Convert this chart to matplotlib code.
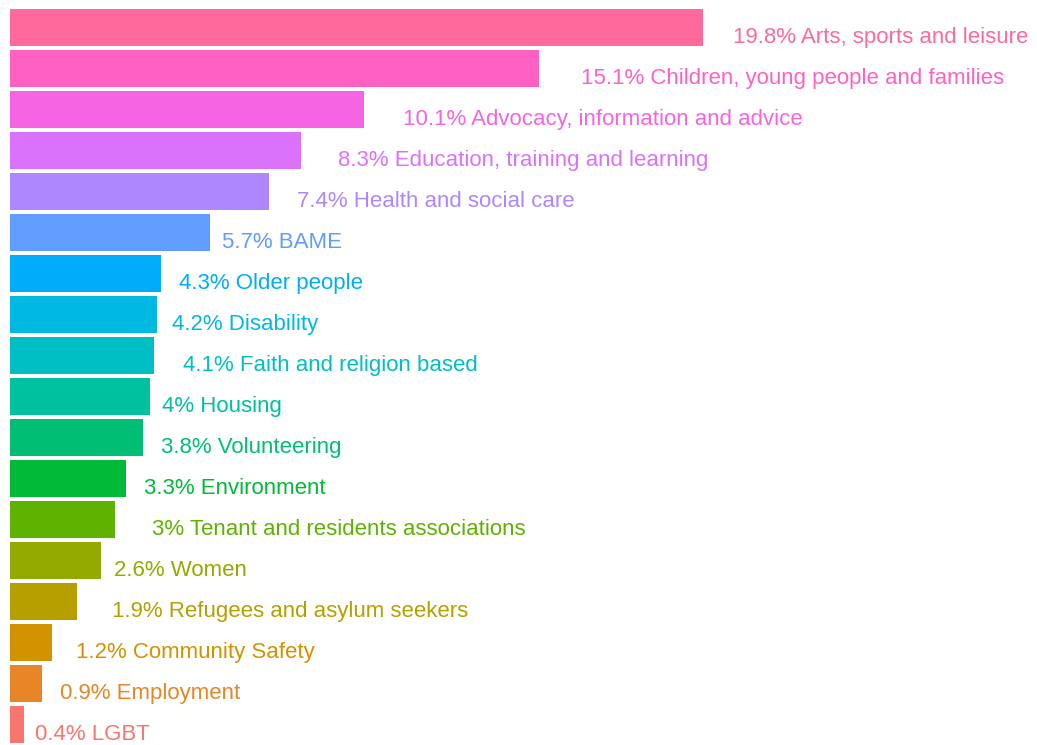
import numpy as np
import matplotlib
matplotlib.use('Agg')
import matplotlib.pyplot as plt
from matplotlib.transforms import Affine2D

# data, bottom to top
categories = ['LGBT', 'Employment', 'Community Safety', 'Refugees and asylum seekers',
              'Women', 'Tenant and residents associations', 'Environment', 'Volunteering',
              'Housing', 'Faith and religion based', 'Disability', 'Older people', 'BAME',
              'Health and social care', 'Education, training and learning',
              'Advocacy, information and advice', 'Children, young people and families',
              'Arts, sports and leisure']
values = [0.4, 0.9, 1.2, 1.9, 2.6, 3.0, 3.3, 3.8, 4.0, 4.1, 4.2, 4.3, 5.7, 7.4, 8.3,
          10.1, 15.1, 19.8]
value_labels = ['0.4%', '0.9%', '1.2%', '1.9%', '2.6%', '3%', '3.3%', '3.8%', '4%',
                '4.1%', '4.2%', '4.3%', '5.7%', '7.4%', '8.3%', '10.1%', '15.1%', '19.8%']


def hcl2hex(h, c, l):
    # R's hcl(): polar LUV -> sRGB
    wu, wv, wy = 0.1978398, 0.4683363, 100.0
    hr = np.radians(h)
    U = c * np.cos(hr)
    V = c * np.sin(hr)
    if l > 7.999592:
        Y = wy * ((l + 16) / 116) ** 3
    else:
        Y = wy * l / 903.3
    t = 13 * l
    u = U / t + wu
    v = V / t + wv
    X = 9.0 * Y * u / (4 * v)
    Z = -X / 3 - 5 * Y + 3 * Y / v
    r = (3.240479 * X - 1.537150 * Y - 0.498535 * Z) / wy
    g = (-0.969256 * X + 1.875992 * Y + 0.041556 * Z) / wy
    b = (0.055648 * X - 0.204043 * Y + 1.057311 * Z) / wy

    def gt(x):
        return 1.055 * x ** (1 / 2.4) - 0.055 if x > 0.00304 else 12.92 * x
    rgb = [min(max(gt(x), 0), 1) for x in (r, g, b)]
    return '#%02X%02X%02X' % tuple(int(round(x * 255)) for x in rgb)


n = len(categories)
hues = np.linspace(15, 375, n + 1)[:-1]
colors = [hcl2hex(h, 100, 65) for h in hues]

fig = plt.figure(figsize=(10.37, 7.45), dpi=100)
ax = fig.add_axes([0, 0, 1, 1])
y = np.arange(n)
ax.barh(y, values, height=0.9, color=colors)
ax.set_xlim(-10 / 35.0, 1027 / 35.0)
ax.set_ylim(-0.51, 17.66)
ax.axis('off')

texts = []
for yi, v, vl, cat, col in zip(y, values, value_labels, categories, colors):
    t = ax.text(v, yi, vl + ' ' + cat, color=col, fontsize=16.0,
                family='Liberation Sans', ha='left', va='baseline')
    texts.append(t)

# hjust = -0.1: shift each label right by a tenth of its own width
fig.canvas.draw()
renderer = fig.canvas.get_renderer()
for t in texts:
    w = t.get_window_extent(renderer).width
    t.set_transform(ax.transData + Affine2D().translate(0.1 * w, -15.5))

fig.savefig('out.png', dpi=100)
